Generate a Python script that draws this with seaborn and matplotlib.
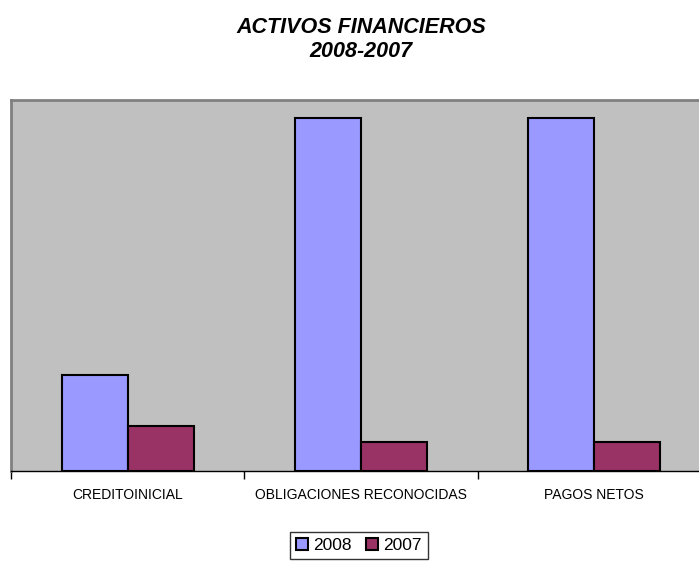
import matplotlib
matplotlib.use("Agg")
import matplotlib.pyplot as plt
import seaborn as sns
import pandas as pd

categories = ["CREDITOINICIAL", "OBLIGACIONES RECONOCIDAS", "PAGOS NETOS"]
series_names = ["2008", "2007"]
values_2008 = [95.7, 353.5, 353.5]
values_2007 = [45.3, 29.0, 29.0]
colors = ["#9999FF", "#993366"]

df = pd.DataFrame({
    "categoria": categories * 2,
    "serie": [series_names[0]] * 3 + [series_names[1]] * 3,
    "valor": values_2008 + values_2007,
})

sns.set_theme(style="white")
plt.rcParams["font.family"] = ["Liberation Sans", "DejaVu Sans"]
plt.rcParams["text.color"] = "black"
plt.rcParams["xtick.color"] = "black"

W, H = 699, 563
fig = plt.figure(figsize=(W / 100, H / 100), dpi=100)
ax = fig.add_axes([11 / W, 1 - 471 / H, 700 / W, 371 / H])
ax.set_facecolor("#C0C0C0")

sns.barplot(data=df, x="categoria", y="valor", hue="serie", order=categories,
            hue_order=series_names, palette=colors, width=0.566, saturation=1,
            edgecolor="black", linewidth=1.5, ax=ax, legend=True)

ax.set_xlim(-0.5, 2.5)
ax.set_ylim(0, 371)
ax.set_xlabel("")
ax.set_ylabel("")
ax.set_yticks([])

ax.set_xticks([0, 1, 2])
ax.set_xticklabels(categories, fontsize=10, color="black")
ax.tick_params(axis="x", which="major", length=0, pad=12)
ax.set_xticks([-0.5, 0.5, 1.5, 2.5], minor=True)
ax.tick_params(axis="x", which="minor", length=6, width=1, color="black", direction="out", bottom=True)

for side in ["left", "top"]:
    ax.spines[side].set_visible(True)
    ax.spines[side].set_color("#808080")
    ax.spines[side].set_linewidth(2)
ax.spines["right"].set_visible(False)
ax.spines["bottom"].set_color("black")
ax.spines["bottom"].set_linewidth(1)

ax.set_title("ACTIVOS FINANCIEROS\n2008-2007", fontsize=15.5, fontweight="bold",
             fontstyle="italic", pad=31, linespacing=1.2, color="black")

handles, labels = ax.get_legend_handles_labels()
if ax.get_legend() is not None:
    ax.get_legend().remove()
leg = fig.legend(handles, labels, ncol=2, loc="upper center",
                 bbox_to_anchor=(359 / W, 1 - 532 / H), frameon=True,
                 fancybox=False, edgecolor="black", fontsize=12.5,
                 handlelength=0.7, handleheight=0.7, handletextpad=0.3,
                 columnspacing=0.8, borderpad=0.35, borderaxespad=0)
leg.get_frame().set_linewidth(1)
for t in leg.get_texts():
    t.set_color("black")

fig.savefig("out.png", dpi=100, facecolor="white")
